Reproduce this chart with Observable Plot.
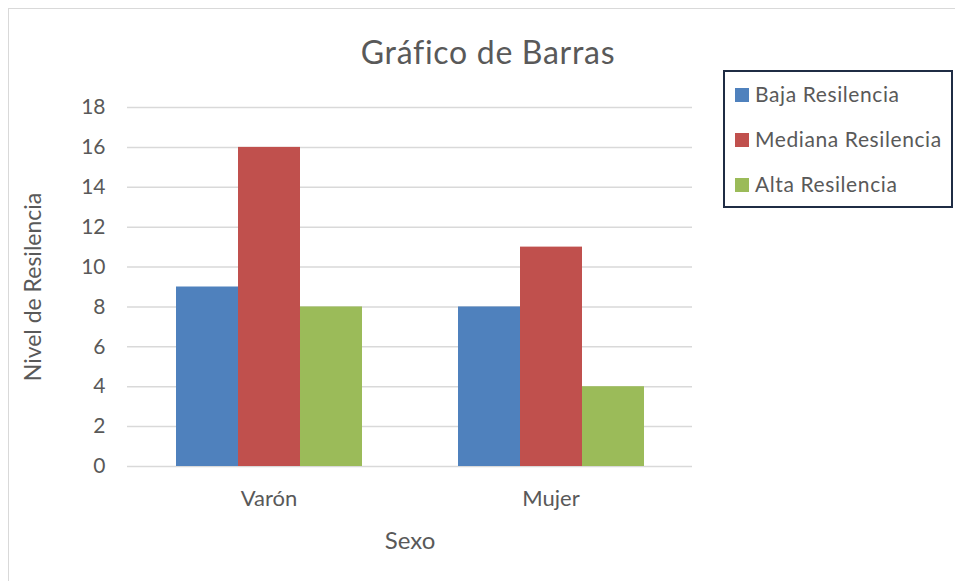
<!DOCTYPE html>
<html>
<head>
<meta charset="utf-8">
<script src="https://cdn.jsdelivr.net/npm/d3@7"></script>
<script src="https://cdn.jsdelivr.net/npm/@observablehq/plot@0.6"></script>
<style>
  html, body { margin: 0; padding: 0; background: #fff; }
  #wrap { position: relative; width: 955px; height: 581px; overflow: hidden; font-family: Lato, "Open Sans", sans-serif; color: #595959; }
  #frame { position: absolute; left: 8px; top: 8px; width: 1000px; height: 1000px; border-left: 1.5px solid #d9d9d9; border-top: 1.5px solid #d9d9d9; box-sizing: border-box; }
  .layer { position: absolute; left: 0; top: 0; }
  .abs { position: absolute; white-space: nowrap; line-height: 1.2; }
  #legend { position: absolute; left: 723px; top: 70px; width: 230px; height: 138px; border: 2px solid #1f2c44; box-sizing: border-box; background: #fff; }
  .sw { position: absolute; width: 14px; height: 14px; }
</style>
</head>
<body>
<div id="wrap">
  <div id="frame"></div>
  <div id="grid" class="layer"></div>
  <div id="chart" class="layer"></div>
  <div class="abs" id="title" style="left:0;width:976px;text-align:center;top:33px;font-size:32px;letter-spacing:0.7px;">Gráfico de Barras</div>
  <div class="abs" id="ylab" style="left:33px;top:287px;font-size:23px;transform:translate(-50%,-50%) rotate(-90deg);">Nivel de Resilencia</div>
  <div class="abs" id="xlab" style="left:410px;top:526px;font-size:24px;transform:translateX(-50%);">Sexo</div>
  <div id="legend"></div>
</div>
<script>
const sexo = ["Varón", "Mujer"];
const series = ["Baja Resilencia", "Mediana Resilencia", "Alta Resilencia"];
const baja = [9, 8];
const mediana = [16, 11];
const alta = [8, 4];
const colors = ["#4F81BD", "#C0504D", "#9BBB59"];
const yTicks = [0, 2, 4, 6, 8, 10, 12, 14, 16, 18];

const values = [baja, mediana, alta];
const data = sexo.flatMap((s, i) => series.map((k, j) => ({sexo: s, serie: k, valor: values[j][i]})));

const common = {
  width: 955,
  height: 581,
  marginLeft: 127,
  marginRight: 263,
  marginTop: 107,
  marginBottom: 115,
  style: {fontFamily: "Lato, 'Open Sans', sans-serif", color: "#595959", background: "transparent", overflow: "visible"},
  y: {domain: [0, 18], axis: null}
};

// Background layer: grid lines and y tick labels spanning the whole plot area
const grid = Plot.plot({
  ...common,
  marks: [
    Plot.ruleY(yTicks, {stroke: "#d9d9d9", strokeWidth: 1.5}),
    Plot.text(yTicks, {y: d => d, text: d => String(d), frameAnchor: "left", textAnchor: "end", dx: -22, fontSize: 21, fill: "#595959"})
  ]
});
document.getElementById("grid").appendChild(grid);

// Foreground layer: grouped bars
const chart = Plot.plot({
  ...common,
  fx: {domain: sexo, paddingInner: 0.338, paddingOuter: 0.169, label: null, axis: null},
  x: {domain: series, padding: 0, axis: null},
  color: {domain: series, range: colors},
  marks: [
    Plot.barY(data, {fx: "sexo", x: "serie", y: "valor", fill: "serie"}),
    Plot.axisFx({anchor: "bottom", tickSize: 0, tickPadding: 24, fontSize: 22, label: null, fill: "#595959"})
  ]
});
document.getElementById("chart").appendChild(chart);

const legend = document.getElementById("legend");
const baselines = [101.7, 147, 192];
series.forEach((s, i) => {
  const sw = document.createElement("div");
  sw.className = "sw";
  sw.style.left = (735 - 725) + "px";
  sw.style.top = (baselines[i] - 14 - 72) + "px";
  sw.style.background = colors[i];
  legend.appendChild(sw);
  const t = document.createElement("div");
  t.className = "abs";
  t.style.left = (755 - 725) + "px";
  t.style.fontSize = "21px";
  t.style.letterSpacing = "0.6px";
  t.style.top = (baselines[i] - 0.987 * 21 - 72) + "px";
  t.textContent = s;
  legend.appendChild(t);
});
</script>
</body>
</html>
